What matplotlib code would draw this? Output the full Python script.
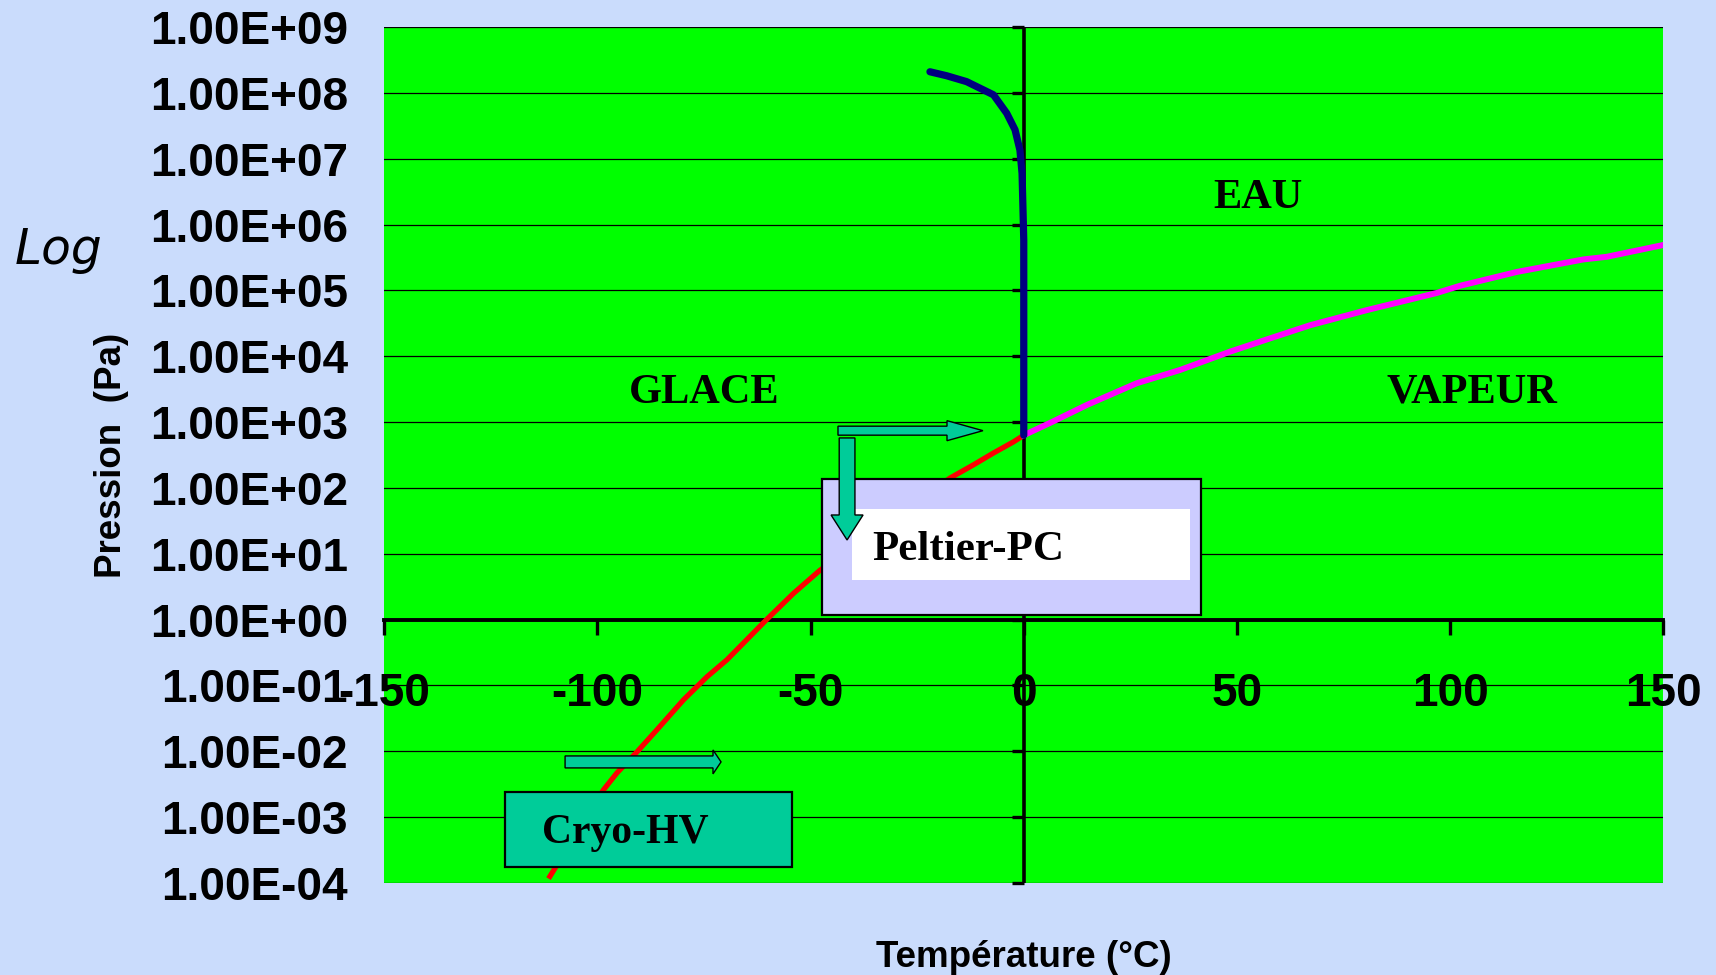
import numpy as np
import matplotlib
matplotlib.use("Agg")
import matplotlib.pyplot as plt
from matplotlib.ticker import FuncFormatter, NullLocator
from matplotlib.patches import Rectangle, FancyArrow

BG = '#CADCFC'
PLOT_BG = '#00FF00'
TEAL = '#00CC99'

# sublimation curve (ice / vapour)
ice_T = [-111.1, -98.6, -95.4, -90.7, -86.1, -79.8, -74.3, -69.6, -60.3, -54.0,
         -47.8, -17.3, -11.8, -7.1, -2.4, 0.0]
ice_P = [1.26e-4, 2.57e-3, 4.68e-3, 9.77e-3, 2.09e-2, 6.03e-2, 0.135, 0.245, 1.0, 2.5,
         5.6, 141, 224, 339, 501, 631]

# vaporisation curve (water / vapour)
vap_T = [0.0, 6.9, 14.8, 26.5, 36.6, 48.4, 57.7, 67.1, 80.4, 96.8, 102.3, 115.6,
         131.2, 136.7, 150.0]
vap_P = [631, 1023, 1820, 3890, 6170, 11750, 18620, 29510, 50100, 91200, 117500,
         190500, 295100, 323600, 489800]

# fusion curve (ice / water)
fus_T = [-22.0, -18.1, -13.4, -7.1, -4.0, -2.05, -0.9, -0.4, -0.1, 0.0, 0.0]
fus_P = [2.09e8, 1.82e8, 1.48e8, 9.33e7, 4.9e7, 2.75e7, 1.35e7, 6.0e6, 1.05e6,
         5.75e5, 631]

x_ticks = [-150, -100, -50, 0, 50, 100, 150]
y_ticks = [1e-4, 1e-3, 1e-2, 1e-1, 1e0, 1e1, 1e2, 1e3, 1e4, 1e5, 1e6, 1e7, 1e8, 1e9]

regions = ['GLACE', 'EAU', 'VAPEUR']
region_T = [-75, 55, 105]
region_P = [2.8e3, 2.5e6, 2.8e3]

plt.rc('font', family='Liberation Sans', weight='bold')
plt.rc('axes', unicode_minus=False, labelweight='bold')

fig = plt.figure(figsize=(17.16, 9.75), dpi=100, facecolor=BG)
ax = fig.add_axes([0.2238, 0.0944, 0.7456, 0.8779])
ax.set_facecolor(PLOT_BG)
ax.set_yscale('log')
ax.set_xlim(-150, 150)
ax.set_ylim(1e-4, 1e9)

# axes crossing at T=0 and P=1
for s in ['top', 'right', 'left']:
    ax.spines[s].set_visible(False)
ax.spines['bottom'].set_position(('data', 1))
ax.spines['bottom'].set_linewidth(2.8)
ax.spines['bottom'].set_zorder(3)
ax.axvline(0, color='k', lw=2.6, zorder=3)
ax.plot(np.zeros(len(y_ticks)), y_ticks, ls='none', marker=0, color='k',
        markersize=9, markeredgewidth=2.4, zorder=3, clip_on=False)

ax.set_xticks(x_ticks)
ax.set_yticks(y_ticks)
ax.yaxis.set_minor_locator(NullLocator())
ax.yaxis.set_major_formatter(FuncFormatter(lambda v, pos: f"{v:.2E}"))
ax.tick_params(axis='x', direction='out', length=11, width=2.4, pad=27, labelsize=33)
ax.tick_params(axis='y', length=0, pad=26, labelsize=33)
ax.yaxis.grid(True, color='k', lw=0.9)
ax.set_axisbelow(True)

ax.plot(ice_T, ice_P, color='#FF0000', lw=3.8, zorder=4)
ax.plot(vap_T, vap_P, color='#FF00FF', lw=4.3, zorder=4)
ax.plot(fus_T, fus_P, color='#000080', lw=5.2, zorder=5, solid_capstyle='round')

for name, t, p in zip(regions, region_T, region_P):
    ax.text(t, p, name, family='Liberation Serif', fontsize=30.5, fontweight='bold',
            ha='center', va='center', zorder=6)

ax.set_xlabel('Température (°C)', fontsize=26.5, fontweight='bold', va='baseline')
ax.xaxis.set_label_coords(0.5, -0.098)
ax.set_ylabel('Pression  (Pa)', fontsize=26.5, fontweight='bold', va='center')
ax.yaxis.set_label_coords(-0.2128, 0.5)
fig.text(0.034, 0.744, 'Log', fontsize=35, fontweight='normal', style='italic',
         family='DejaVu Sans', ha='center', va='center')

# Peltier-PC annotation
tr = ax.transAxes
ax.add_patch(Rectangle((0.3423, 0.3131), 0.2962, 0.1589, transform=tr, facecolor='#CCCCFF',
                       edgecolor='k', lw=1.6, zorder=7))
ax.add_patch(Rectangle((0.3658, 0.3540), 0.2642, 0.0829, transform=tr, facecolor='white',
                       edgecolor='none', zorder=8))
ax.text(0.3814, 0.3773, 'Peltier-PC', transform=tr, family='Liberation Serif', fontsize=31,
        fontweight='bold', ha='left', va='baseline', zorder=9)
ax.add_patch(FancyArrow(0.3548, 0.5284, 0.1133, 0, width=0.0105, head_width=0.0234,
                        head_length=0.0281, length_includes_head=True, transform=tr,
                        facecolor=TEAL, edgecolor='k', lw=1.0, zorder=9))
ax.add_patch(FancyArrow(0.3619, 0.5199, 0, -0.1192, width=0.0123, head_width=0.0250,
                        head_length=0.0292, length_includes_head=True, transform=tr,
                        facecolor=TEAL, edgecolor='k', lw=1.0, zorder=9))

# Cryo-HV annotation
ax.add_patch(Rectangle((0.0946, 0.0187), 0.2243, 0.0876, transform=tr, facecolor=TEAL,
                       edgecolor='k', lw=1.6, zorder=7))
ax.text(0.1235, 0.0467, 'Cryo-HV', transform=tr, family='Liberation Serif', fontsize=30,
        fontweight='bold', ha='left', va='baseline', zorder=9)
ax.add_patch(FancyArrow(0.1415, 0.1414, 0.1219, 0, width=0.0140, head_width=0.0280,
                        head_length=0.0063, length_includes_head=True, transform=tr,
                        facecolor=TEAL, edgecolor='k', lw=1.0, zorder=9))

fig.savefig('out.png', dpi=100, facecolor=BG)
